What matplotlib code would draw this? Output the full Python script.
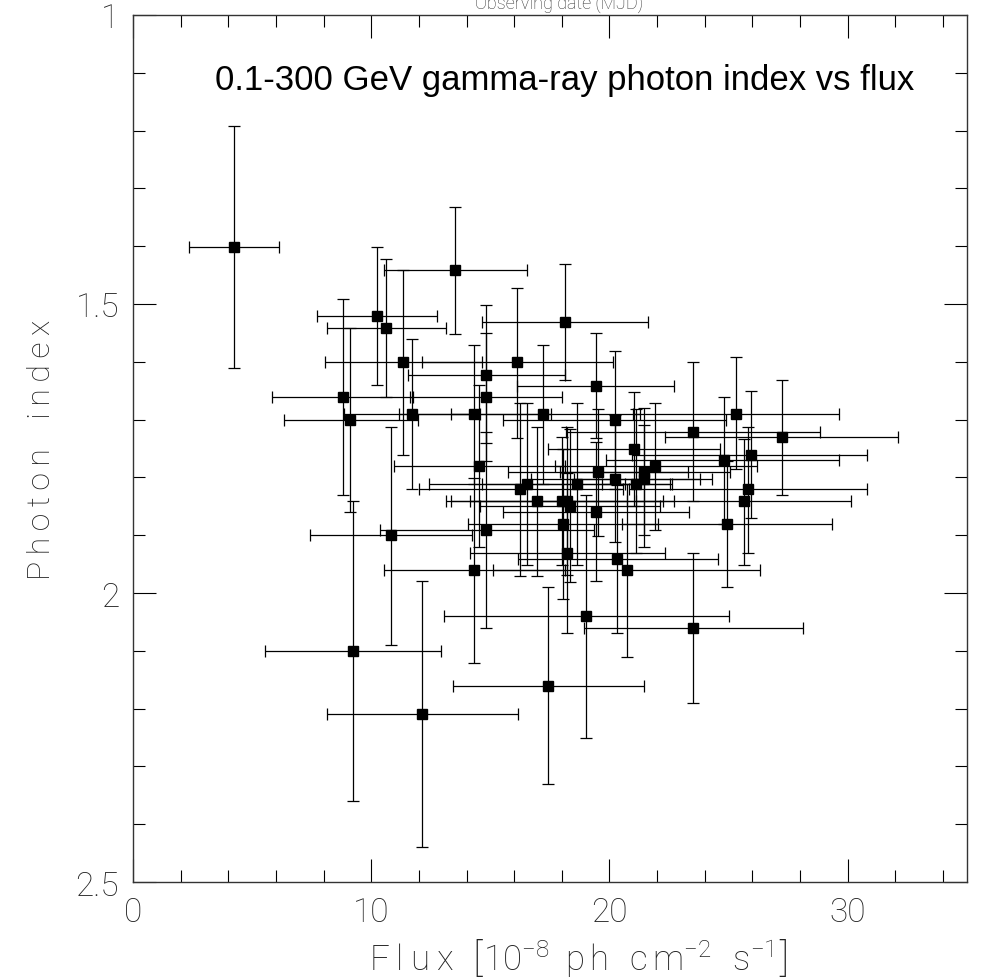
import numpy as np
import matplotlib
matplotlib.use("Agg")
import matplotlib.pyplot as plt
from matplotlib.ticker import MultipleLocator, FormatStrFormatter

# thin font for axes, also inside math text
plt.rcParams["mathtext.fontset"] = "custom"
plt.rcParams["mathtext.rm"] = "Roboto:light"
plt.rcParams["mathtext.it"] = "Roboto:light"

# Flux [1e-8 ph cm^-2 s^-1]: value, lower and upper end of the error bar
flux = [4.25, 10.25, 10.64, 13.53, 11.34, 8.82, 9.11, 14.83, 16.11, 18.14,
        14.83, 11.71, 14.32, 17.22, 19.44, 20.24, 21.04, 14.53, 19.53, 20.24,
        21.46, 21.46, 21.13, 16.26, 16.53, 18.64, 16.94, 18.03, 18.20, 18.34,
        19.44, 18.04, 14.83, 10.84, 18.22, 20.32, 20.74, 14.33, 19.02, 23.52,
        9.24, 17.44, 12.15, 25.32, 23.51, 27.25, 25.94, 24.82, 21.92, 25.82,
        25.63, 24.94]
flux_lo = [2.35, 7.73, 8.14, 10.54, 8.06, 5.85, 6.34, 11.55, 12.15, 14.63,
           11.64, 8.85, 11.16, 13.34, 16.12, 15.54, 17.44, 10.94, 15.74, 16.70,
           17.92, 18.50, 19.68, 12.00, 12.42, 14.65, 13.13, 13.34, 14.14, 14.56,
           15.54, 14.05, 10.37, 7.44, 14.13, 16.15, 15.12, 10.55, 13.05, 18.94,
           5.55, 13.44, 8.15, 20.98, 18.17, 22.33, 20.96, 19.86, 17.71, 20.81,
           21.11, 20.52]
flux_hi = [6.14, 12.76, 13.15, 16.53, 14.65, 11.75, 11.96, 18.13, 20.15, 21.64,
           18.00, 14.56, 17.54, 21.28, 22.71, 24.91, 24.63, 18.13, 23.30, 23.80,
           25.05, 24.30, 22.53, 20.56, 20.65, 22.62, 20.73, 22.70, 22.24, 22.12,
           23.34, 22.03, 19.35, 14.24, 22.32, 24.55, 26.33, 18.12, 25.03, 28.13,
           12.94, 21.45, 16.15, 29.64, 28.83, 32.11, 30.83, 29.63, 26.19, 30.83,
           30.13, 29.35]

# Photon index: value, lower and upper end of the error bar
index = [1.402, 1.521, 1.542, 1.441, 1.601, 1.661, 1.701, 1.622, 1.601, 1.531,
         1.661, 1.690, 1.690, 1.690, 1.642, 1.701, 1.751, 1.780, 1.791, 1.802,
         1.791, 1.802, 1.812, 1.820, 1.812, 1.812, 1.841, 1.841, 1.841, 1.849,
         1.860, 1.881, 1.891, 1.900, 1.931, 1.941, 1.961, 1.961, 2.040, 2.061,
         2.101, 2.160, 2.210, 1.691, 1.722, 1.730, 1.762, 1.770, 1.781, 1.820,
         1.841, 1.881]
index_lo = [1.192, 1.402, 1.422, 1.332, 1.442, 1.491, 1.541, 1.502, 1.472, 1.431,
            1.551, 1.561, 1.571, 1.571, 1.551, 1.582, 1.652, 1.641, 1.682, 1.692,
            1.680, 1.709, 1.682, 1.671, 1.671, 1.671, 1.712, 1.730, 1.713, 1.716,
            1.739, 1.751, 1.721, 1.712, 1.792, 1.813, 1.811, 1.801, 1.831, 1.931,
            1.840, 1.990, 1.980, 1.591, 1.601, 1.631, 1.651, 1.661, 1.671, 1.712,
            1.733, 1.771]
index_hi = [1.611, 1.641, 1.661, 1.552, 1.761, 1.830, 1.860, 1.741, 1.731, 1.631,
            1.771, 1.820, 1.811, 1.811, 1.731, 1.820, 1.849, 1.921, 1.901, 1.911,
            1.900, 1.920, 1.930, 1.971, 1.952, 1.952, 1.970, 1.952, 1.969, 1.981,
            1.980, 2.010, 2.061, 2.090, 2.070, 2.070, 2.110, 2.121, 2.250, 2.190,
            2.360, 2.330, 2.439, 1.785, 1.840, 1.830, 1.871, 1.881, 1.891, 1.931,
            1.951, 1.990]

x = np.array(flux)
y = np.array(index)
xerr = [x - np.array(flux_lo), np.array(flux_hi) - x]
yerr = [y - np.array(index_lo), np.array(index_hi) - y]

axis_font = dict(family=["Roboto", "DejaVu Sans"], weight="light")
ts = "\u2009"  # thin space, for the wide letter spacing of the axis labels

fig = plt.figure(figsize=(10.08, 9.79), dpi=100)
ax = fig.add_axes([0.132, 0.098, 0.827, 0.8857])

ax.errorbar(x, y, xerr=xerr, yerr=yerr, fmt="s", color="black",
            ecolor="black", elinewidth=0.9, capsize=4.5, capthick=0.9,
            markersize=6.5)

ax.set_xlim(0, 35)
ax.set_ylim(2.5, 1)

ax.xaxis.set_major_locator(MultipleLocator(10))
ax.xaxis.set_minor_locator(MultipleLocator(2))
ax.yaxis.set_major_locator(MultipleLocator(0.5))
ax.yaxis.set_minor_locator(MultipleLocator(0.1))
ax.yaxis.set_major_formatter(FormatStrFormatter("%g"))

ax.tick_params(which="both", direction="in", top=True, right=True, width=0.8)
ax.tick_params(which="major", length=16.5, labelsize=24)
ax.tick_params(axis="x", which="major", pad=10)
ax.tick_params(axis="y", which="major", pad=10)
ax.tick_params(which="minor", length=8.5)
for lab in ax.get_xticklabels() + ax.get_yticklabels():
    lab.set_fontfamily(axis_font["family"])
    lab.set_fontweight("light")
    lab.set_color("#222222")
for s in ax.spines.values():
    s.set_linewidth(1.0)
    s.set_color("#333333")

xlab = ts.join("Flux") + r"  $\left[10^{-8}\ \,\mathrm{p\,h\ \ c\,m^{-2}\ \ s^{-1}}\right]$"
ax.set_xlabel(xlab, fontsize=25, labelpad=6, color="#222222", **axis_font)
ax.xaxis.label.set_x(0.534)
ylab = ts.join("Photon") + ts + "\u2002" + ts + ts.join("index")
ax.set_ylabel(ylab, fontsize=23, labelpad=14, color="#222222", **axis_font)

ax.text(0.518, 0.925, "0.1-300 GeV gamma-ray photon index vs flux",
        transform=ax.transAxes, ha="center", va="center", fontsize=25,
        family=["Liberation Sans", "DejaVu Sans"])

# top axis label, partly cut off by the page edge
fig.text(0.555, 0.996, "Observing date (MJD)", ha="center", va="center",
         fontsize=13, color="#333333", **axis_font)

fig.savefig("out.png", dpi=100)
